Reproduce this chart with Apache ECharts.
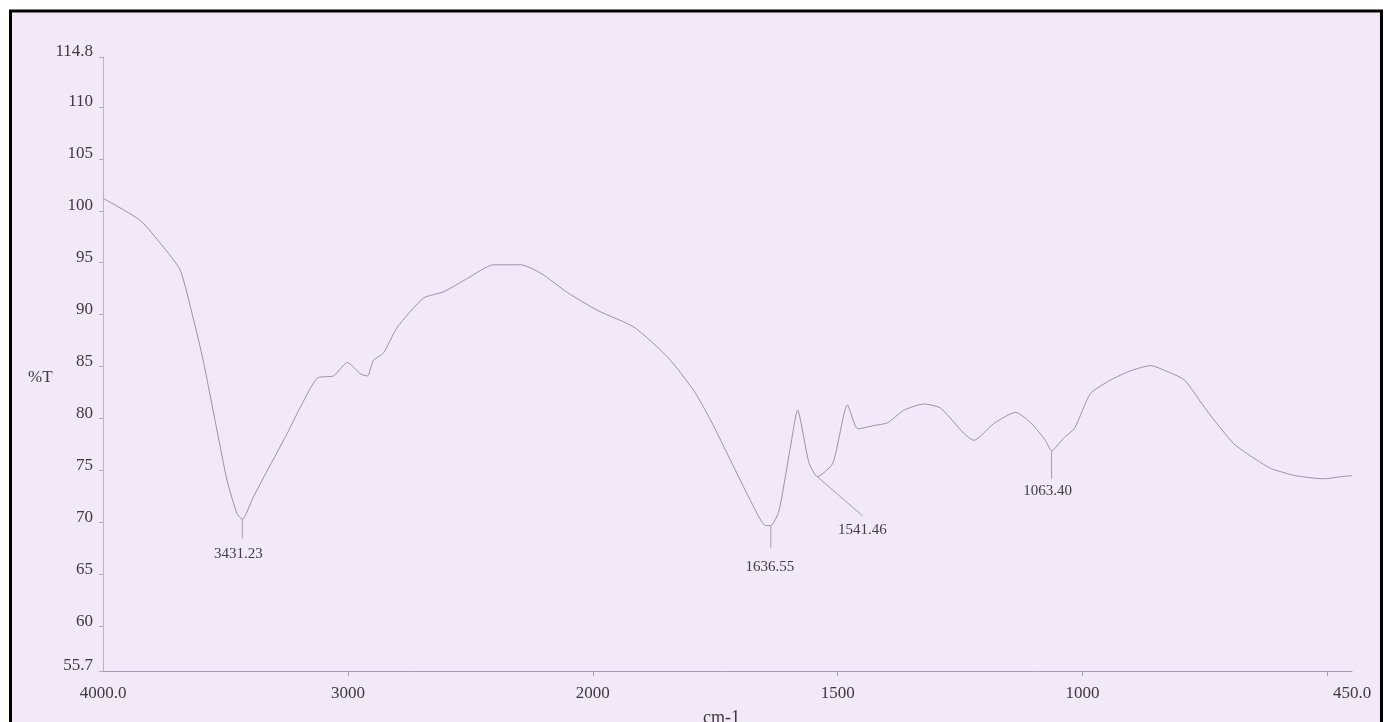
<!DOCTYPE html>
<html>
<head>
<meta charset="utf-8">
<title>IR spectrum</title>
<script src="https://cdn.jsdelivr.net/npm/echarts@6/dist/echarts.min.js"></script>
<style>
  html, body { margin: 0; padding: 0; background: #ffffff; }
  #chart { width: 1384px; height: 722px; }
</style>
</head>
<body>
<div id="chart"></div>
<script>
// Transmittance spectrum, wavenumber in cm-1 (descending) and %T
const wavenumbers = [
  4000, 3849, 3760, 3685, 3632, 3591, 3534, 3493, 3452, 3431.23,
  3387, 3329, 3247, 3194, 3125, 3059, 3002, 2949, 2920, 2896,
  2855, 2798, 2691, 2609, 2511, 2405, 2294, 2213, 2102, 1990,
  1916, 1847, 1794, 1759, 1718, 1678, 1647, 1636.55, 1620, 1596,
  1582, 1559, 1541.46, 1510, 1480, 1459, 1429, 1398, 1365, 1324,
  1290, 1243, 1222, 1182, 1137, 1106, 1076, 1063.40, 1039, 1016,
  984, 943, 902, 861, 831, 792, 747, 692, 657, 616,
  565, 508, 473, 450
];
const transmittance = [
  101.2, 99.1, 96.7, 94.3, 89.7, 85.6, 78.8, 74.0, 70.8, 70.3,
  72.4, 75.0, 78.6, 81.1, 83.9, 84.1, 85.4, 84.3, 84.1, 85.6,
  86.3, 88.8, 91.6, 92.2, 93.5, 94.8, 94.8, 94.0, 92.1, 90.4,
  88.8, 85.9, 82.7, 79.8, 75.9, 72.1, 69.7, 69.7, 71.1, 77.4,
  80.8, 75.8, 74.4, 75.7, 81.3, 79.0, 79.3, 79.6, 80.8, 81.4,
  81.0, 78.6, 77.9, 79.5, 80.6, 79.6, 77.9, 76.9, 78.1, 79.1,
  82.4, 83.7, 84.6, 85.1, 84.6, 83.7, 80.8, 77.6, 76.4, 75.2,
  74.5, 74.2, 74.4, 74.5
];

// Labelled absorption peaks
const peakWavenumbers = [3431.23, 1636.55, 1541.46, 1063.40];
const peakTransmittance = [70.3, 69.7, 74.4, 76.9];

// Axis ticks
const yTickValues = [55.7, 60, 65, 70, 75, 80, 85, 90, 95, 100, 105, 110, 114.8];
const xLabelValues = [4000, 3000, 2000, 1500, 1000, 450];
const xTickValues = [3000, 2000, 1500, 1000, 500];

// The wavenumber scale is compressed 2:1 above 2000 cm-1.
const SPLIT = 2000;
const toAxis = wn => (wn > SPLIT ? SPLIT + (wn - SPLIT) / 2 : wn);
const fromAxis = x => (x > SPLIT ? SPLIT + (x - SPLIT) * 2 : x);

// Leader line + label offsets for each peak annotation (pixels)
const peakLeaders = [
  { dx: 0,  dy: 19, gap: 8,  tx: -4 },
  { dx: 0,  dy: 22, gap: 12, tx: -1 },
  { dx: 45, dy: 39, gap: 7,  tx: 0 },
  { dx: 0,  dy: 28, gap: 5,  tx: -4 }
];

const curveData = wavenumbers.map((wn, i) => [toAxis(wn), transmittance[i]]);
const peakData = peakWavenumbers.map((wn, i) => [toAxis(wn), peakTransmittance[i]]);

const serif = '"Liberation Serif", "DejaVu Serif", serif';
const textColor = '#3b3a3e';

const chart = echarts.init(document.getElementById('chart'), null, { renderer: 'canvas' });

chart.setOption({
  animation: false,
  backgroundColor: '#ffffff',
  graphic: [
    {
      type: 'rect',
      z: -10,
      silent: true,
      shape: { x: 10.5, y: 11, width: 1371, height: 800 },
      style: { fill: '#f1e8f8', stroke: '#000000', lineWidth: 3 }
    },
    {
      type: 'text',
      left: 28,
      top: 369,
      silent: true,
      style: { text: '%T', font: '17px ' + serif, fill: textColor }
    },
    {
      type: 'text',
      left: 703,
      top: 709,
      silent: true,
      style: { text: 'cm-1', font: '18px ' + serif, fill: textColor }
    }
  ],
  grid: { left: 103, right: 32, top: 57, bottom: 51 },
  xAxis: {
    type: 'value',
    min: 450,
    max: 3000,
    inverse: true,
    splitLine: { show: false },
    axisLine: { show: true, onZero: false, lineStyle: { color: '#a89bb6', width: 1 } },
    axisTick: {
      show: true,
      length: 5,
      customValues: xTickValues.map(toAxis),
      lineStyle: { color: '#a89bb6' }
    },
    axisLabel: {
      show: true,
      margin: 14,
      customValues: xLabelValues.map(toAxis),
      color: textColor,
      fontFamily: serif,
      fontSize: 17,
      formatter: v => {
        const wn = Math.round(fromAxis(v));
        return (wn === 4000 || wn === 450) ? wn.toFixed(1) : String(wn);
      }
    }
  },
  yAxis: {
    type: 'value',
    min: 55.7,
    max: 114.8,
    splitLine: { show: false },
    axisLine: { show: true, onZero: false, lineStyle: { color: '#bdb2cc', width: 1 } },
    axisTick: {
      show: true,
      length: 4,
      customValues: yTickValues,
      lineStyle: { color: '#b5aac2' }
    },
    axisLabel: {
      show: true,
      margin: 10,
      customValues: yTickValues,
      color: textColor,
      fontFamily: serif,
      fontSize: 17,
      verticalAlign: 'bottom',
      lineHeight: 10,
      formatter: v => (Number.isInteger(v) ? String(v) : v.toFixed(1))
    }
  },
  series: [
    {
      type: 'line',
      data: curveData,
      showSymbol: false,
      smooth: 0.2,
      lineStyle: { color: '#9c91aa', width: 1 },
      z: 3
    },
    {
      type: 'custom',
      data: peakData,
      z: 4,
      renderItem: (params, api) => {
        const p = api.coord([api.value(0), api.value(1)]);
        const l = peakLeaders[params.dataIndex];
        const ex = p[0] + l.dx;
        const ey = p[1] + l.dy;
        return {
          type: 'group',
          children: [
            {
              type: 'line',
              shape: { x1: p[0], y1: p[1], x2: ex, y2: ey },
              style: { stroke: '#a699b3', lineWidth: 1 }
            },
            {
              type: 'text',
              x: ex + l.tx,
              y: ey + l.gap,
              style: {
                text: peakWavenumbers[params.dataIndex].toFixed(2),
                font: '15px ' + serif,
                fill: '#3f3e44',
                align: 'center',
                verticalAlign: 'top'
              }
            }
          ]
        };
      }
    }
  ]
});
</script>
</body>
</html>
